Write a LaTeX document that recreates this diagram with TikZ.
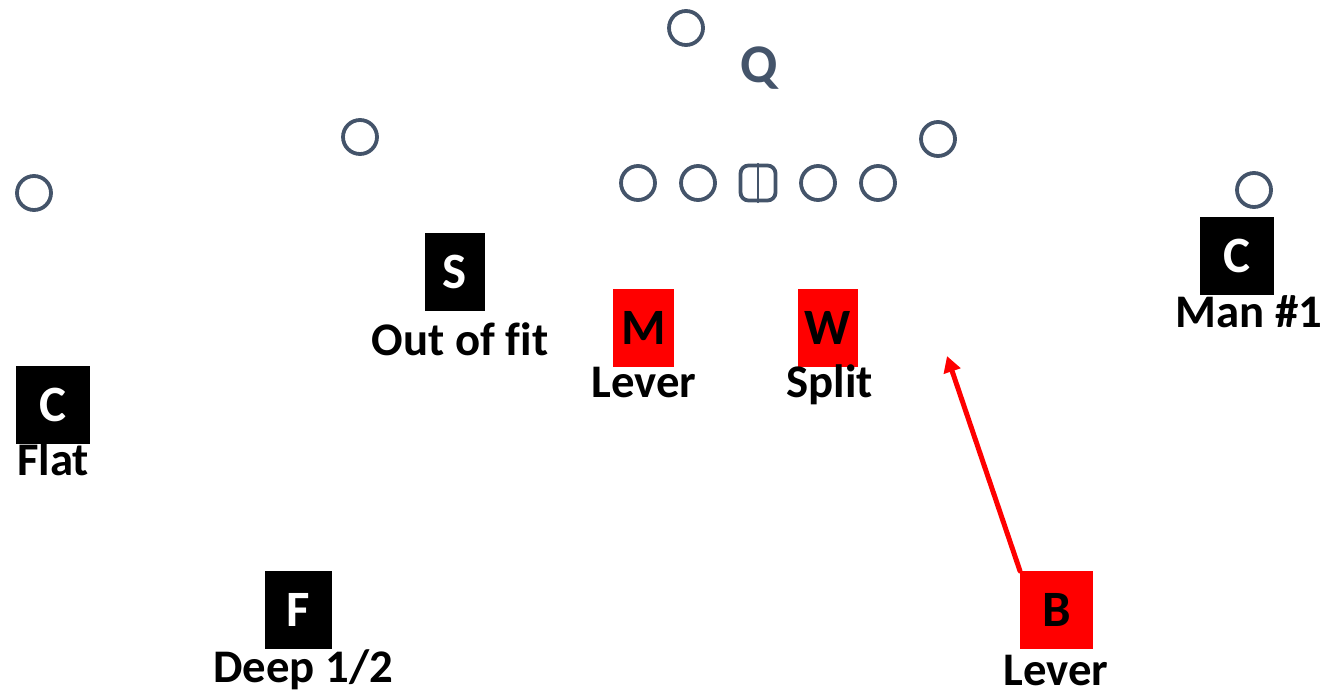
\documentclass[tikz,border=0pt]{standalone}
\usepackage{fontspec}
\setmainfont{Carlito}[Ligatures=NoCommon]
\usepackage{xcolor}
\usetikzlibrary{arrows.meta,positioning}
\definecolor{plslate}{RGB}{68,84,106}
\definecolor{plred}{RGB}{255,0,0}

\begin{document}
\begin{tikzpicture}[x=0.1mm, y=-0.1mm, >=Triangle, line cap=round, line join=round,
    font=\fontsize{13.3}{16}\selectfont\bfseries,
    offman/.style={circle, draw=plslate, line width=0.38mm, minimum size=3.4mm, inner sep=0pt},
    snapper/.style={rectangle, rounded corners=0.8mm, draw=plslate, line width=0.38mm, minimum size=3.5mm, inner sep=0pt},
    defbox/.style={rectangle, fill=black, text=white, minimum height=7.8mm, inner sep=0pt, outer sep=0pt,
      font=\fontsize{14.5}{16}\selectfont\bfseries},
    hotbox/.style={defbox, fill=plred, text=black},
    duty/.style={anchor=base, inner sep=0pt, text=black},
    blitz/.style={plred, line width=0.5mm, -{Triangle[length=1.6mm, width=1.7mm]}}]
  \path[use as bounding box] (0,0) rectangle (1325,692); % canvas of the reference
  % offense: line, backs and receivers
  \node[offman] (wrL) at (34,193) {};
  \node[offman] (slot) at (360,137) {};
  \node[offman] (rback) at (686,28) {};
  \node[offman] (ltk) at (638,183) {};
  \node[offman] (lgd) at (698,183) {};
  \node[snapper] (ctr) at (758,183) {};
  \node[offman] (rgd) at (818,183) {};
  \node[offman] (rtk) at (878,183) {};
  \node[offman] (tend) at (938,139) {};
  \node[offman] (wrR) at (1254,190) {};
  \draw[plslate, line width=0.15mm] (ctr.north) -- (ctr.south);
  \node[text=plslate, inner sep=0pt, font=\fontsize{15.5}{18}\selectfont\bfseries] (qlbl) at (759,68) {Q};

  % defense
  \node[defbox, minimum width=7.4mm] (cL) at (53,404.5) {C};
  \node[defbox, minimum width=6.0mm] (sS) at (455,272) {S};
  \node[hotbox, minimum width=6.1mm] (mM) at (643.5,328) {M};
  \node[hotbox, minimum width=6.0mm] (wW) at (828,327.5) {W};
  \node[defbox, minimum width=7.4mm] (cR) at (1237,256) {C};
  \node[defbox, minimum width=6.7mm] (fF) at (298.5,609.5) {F};
  \node[hotbox, minimum width=7.3mm] (bB) at (1056.5,610) {B};

  % assignments
  \node[duty] (sLbl) at (460,355) {Out of fit};
  \node[duty] (mLbl) at (644,397) {Lever};
  \node[duty] (wLbl) at (829.5,397) {Split};
  \node[duty] (cLLbl) at (53,475) {Flat};
  \node[duty] (cRLbl) at (1249,327) {Man \#1};
  \node[duty] (fLbl) at (303,682) {Deep 1/2};
  \node[duty] (bLbl) at (1056,685) {Lever};

  % B fit
  \coordinate (bGap) at (947,356);
  \draw[blitz] (bB.north west) -- (bGap);
\end{tikzpicture}
\end{document}
